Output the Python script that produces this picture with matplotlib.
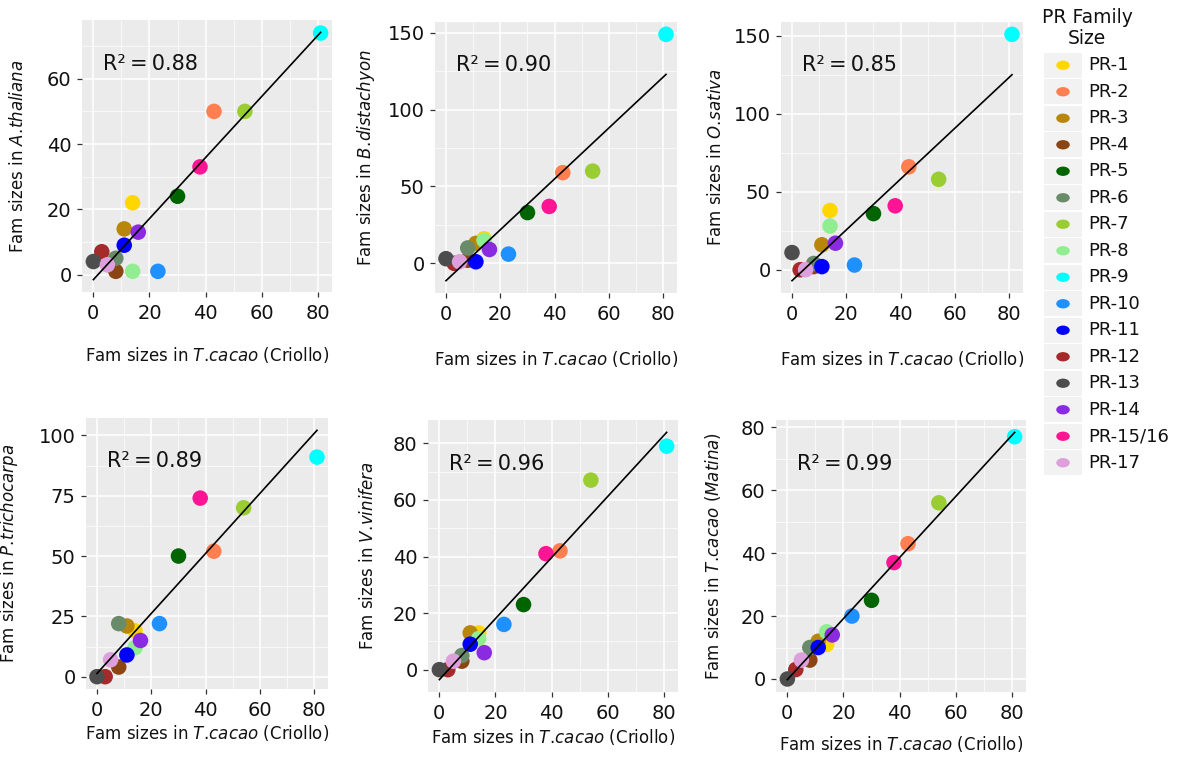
import numpy as np
import matplotlib
matplotlib.use("Agg")
import matplotlib.pyplot as plt
from matplotlib.patches import Rectangle
from matplotlib.path import Path
from matplotlib.transforms import Affine2D

# PR family sizes, one entry per family (same order everywhere)
families = ["PR-1", "PR-2", "PR-3", "PR-4", "PR-5", "PR-6", "PR-7", "PR-8",
            "PR-9", "PR-10", "PR-11", "PR-12", "PR-13", "PR-14", "PR-15/16", "PR-17"]
colors = ["#FFD700", "#FF7F50", "#B8860B", "#8B4513", "#006400", "#698B69",
          "#9ACD32", "#90EE90", "#00FFFF", "#1E90FF", "#0000FF", "#A52A2A",
          "#4D4D4D", "#8A2BE2", "#FF1493", "#DDA0DD"]

criollo = [14, 43, 11, 8, 30, 8, 54, 14, 81, 23, 11, 3, 0, 16, 38, 5]
athaliana = [22, 50, 14, 1, 24, 5, 50, 1, 74, 1, 9, 7, 4, 13, 33, 3]
bdistachyon = [16, 59, 13, 2, 33, 10, 60, 15, 149, 6, 1, 0, 3, 9, 37, 1]
osativa = [38, 66, 16, 2, 36, 4, 58, 28, 151, 3, 2, 0, 11, 17, 41, 0]
ptrichocarpa = [19, 52, 21, 4, 50, 22, 70, 12, 91, 22, 9, 0, 0, 15, 74, 7]
vvinifera = [13, 42, 13, 3, 23, 5, 67, 11, 79, 16, 9, 0, 0, 6, 41, 3]
matina = [11, 43, 12, 6, 25, 10, 56, 15, 77, 20, 10, 3, 0, 14, 37, 6]

# "\!" cancels the space mathtext puts after a period
species = [r"$\mathit{A.\!thaliana}$", r"$\mathit{B.\!distachyon}$", r"$\mathit{O.\!sativa}$",
           r"$\mathit{P.\!trichocarpa}$", r"$\mathit{V.\!vinifera}$",
           r"$\mathit{T.\!cacao\ (Matina)}$"]
r2_labels = ["0.88", "0.90", "0.85", "0.89", "0.96", "0.99"]
y_ticks = [[0, 20, 40, 60], [0, 50, 100, 150], [0, 50, 100, 150],
           [0, 25, 50, 75, 100], [0, 20, 40, 60, 80], [0, 20, 40, 60, 80]]
x_ticks = [0, 20, 40, 60, 80]

plt.rcParams["font.family"] = "DejaVu Sans"
txt_col = "#111111"

W, H = 1181, 757
fig = plt.figure(figsize=(W / 100, H / 100), dpi=100)

# panel boxes in pixels: left, top, right, bottom
boxes = [(82, 20, 332, 292), (435, 22, 677, 293), (781, 22, 1023, 293),
         (86, 418, 328, 689), (428, 420, 678, 692), (776, 420, 1026, 692)]
ylab_x = [27, 377, 725, 20, 377, 723]
xlab_pad = [16, 18, 18, 2, 3, 8]

x = np.array(criollo, dtype=float)
all_y = [athaliana, bdistachyon, osativa, ptrichocarpa, vvinifera, matina]

for i, ys in enumerate(all_y):
    l, t, r, b = boxes[i]
    ax = fig.add_axes([l / W, 1 - b / H, (r - l) / W, (b - t) / H])
    y = np.array(ys, dtype=float)

    ax.set_facecolor("#EBEBEB")
    for s in ax.spines.values():
        s.set_visible(False)

    ax.scatter(x, y, s=125, c=colors, edgecolors="none", zorder=3)

    slope, icpt = np.polyfit(x, y, 1)
    xl = np.array([x.min(), x.max()])
    yl = icpt + slope * xl
    ax.plot(xl, yl, color="black", lw=1.2, zorder=4)

    lo = min(y.min(), yl.min())
    hi = max(y.max(), yl.max())
    pad = (hi - lo) * 0.05
    xpad = (x.max() - x.min()) * 0.05

    ax.set_xticks(x_ticks)
    ax.set_yticks(y_ticks[i])
    ax.set_xticks([v + 10 for v in x_ticks[:-1]], minor=True)
    ys_t = y_ticks[i]
    step = ys_t[1] - ys_t[0]
    ax.set_yticks([v + step / 2 for v in ys_t] + [ys_t[0] - step / 2], minor=True)
    ax.set_xlim(x.min() - xpad, x.max() + xpad)
    ax.set_ylim(lo - pad, hi + pad)

    ax.grid(which="major", color="white", lw=1.1)
    ax.grid(which="minor", color="white", lw=0.5)
    ax.set_axisbelow(True)
    ax.tick_params(which="major", length=3.5, width=0.9, color="#333333",
                   labelsize=14, labelcolor=txt_col)
    ax.tick_params(axis="x", pad=5)
    ax.tick_params(axis="y", pad=4)
    ax.tick_params(which="minor", length=0)

    ax.set_xlabel(r"Fam sizes in $\mathit{T.\!cacao}$ (Criollo)", fontsize=12,
                  labelpad=xlab_pad[i], color=txt_col)
    ax.set_ylabel("Fam sizes in " + species[i], fontsize=12, color=txt_col)
    ax.yaxis.set_label_coords((ylab_x[i] - l) / (r - l), 0.5)

    ax.text(0.085, 0.84, "R\u00b2\u2009=\u2009" + r2_labels[i], transform=ax.transAxes,
            fontsize=15, ha="left", va="center", color=txt_col)

# legend
ellipse = Path.unit_circle().transformed(Affine2D().scale(1.45, 1.0))
lx0, ltop, lbot = 1044, 52, 476
key_w = 38
leg = fig.add_axes([lx0 / W, 1 - lbot / H, (W - lx0) / W, (lbot - ltop) / H])
leg.set_xlim(0, (W - lx0) / key_w)
leg.set_ylim(-len(families) + 0.5, 0.5)
leg.axis("off")
for k, (fam, col) in enumerate(zip(families, colors)):
    leg.add_patch(Rectangle((0, -k - 0.47), 1, 0.94, color="#F2F2F2", lw=0))
    leg.scatter(0.5, -k, s=95, color=col, edgecolors="none", marker=ellipse)
    leg.text(1.17, -k, fam, fontsize=13, ha="left", va="center", color=txt_col)

fig.text(1087 / W, 1 - 28 / H, "PR Family\nSize", fontsize=13.5, ha="center",
         va="center", linespacing=1.1, color=txt_col)

fig.savefig("out.png", dpi=100)
